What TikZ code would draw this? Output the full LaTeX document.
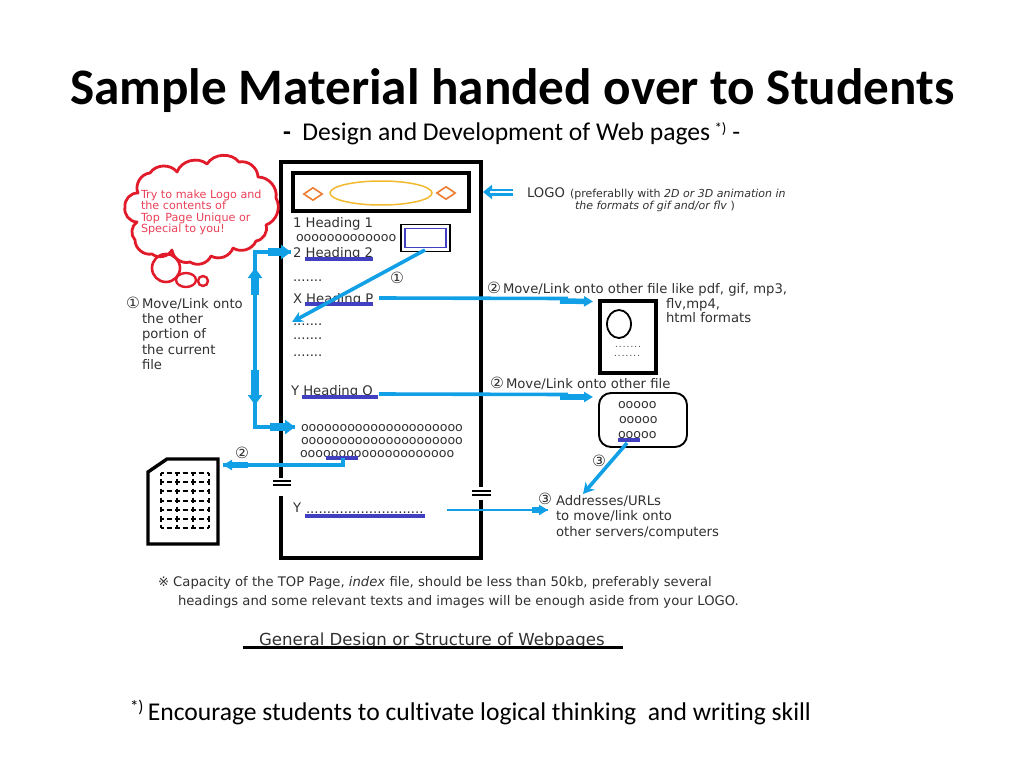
\documentclass[tikz,border=0pt]{standalone}
\usepackage{fontspec}
\setmainfont[Ligatures={NoCommon}]{Carlito}
\newfontfamily\djv{DejaVu Sans}
\newfontfamily\djvsp[LetterSpace=14]{DejaVu Sans}
\usetikzlibrary{arrows.meta,calc,shapes.geometric}
\definecolor{linkblue}{HTML}{11A0E6}
\definecolor{ulblue}{HTML}{4040C0}
\definecolor{inktext}{HTML}{303030}
\definecolor{cloudred}{HTML}{E21B2B}
\definecolor{cloudtext}{HTML}{EA4058}
\definecolor{ovalc}{HTML}{F2B92E}
\definecolor{diac}{HTML}{ED7D31}
\newcommand{\fs}[1]{\fontsize{#1}{#1}\selectfont}
\newcommand{\cnum}[1]{\makebox[16pt][l]{\fs{15.5}#1}}
\tikzset{
 lab/.style={anchor=base west,inner sep=0pt,outer sep=0pt,text=inktext,font=\djv\fs{13.2}},
 olab/.style={lab,font=\djv\fs{12.6}},
 small/.style={lab,font=\djv\fs{11}},
 cloudlab/.style={lab,text=cloudtext,font=\djv\fs{11.2}},
 numlab/.style={lab,anchor=center,font=\djv\fs{15.5}},
 slide/.style={anchor=base west,inner sep=0pt,outer sep=0pt,text=black},
 ul/.style={draw=ulblue,line width=3.2pt},
 link/.style={draw=linkblue,line width=3.6pt},
 thinlink/.style={draw=linkblue,line width=2.8pt},
 stub/.style={draw=linkblue,line width=8pt,-{Triangle[length=10pt,width=14pt,fill=linkblue]}},
 ministub/.style={draw=linkblue,line width=5.5pt,-{Triangle[length=9pt,width=10pt,fill=linkblue]}},
 box/.style={draw=black,inner sep=0pt,outer sep=0pt},
 brk/.style={draw=black,line width=1.3pt},
}
\begin{document}
\begin{tikzpicture}[x=1pt,y=-1pt]
\useasboundingbox (0,0) rectangle (1024,768);
% slide texts
\node[slide,font=\bfseries\fs{51.2}] (title) at (70,104) {Sample Material handed over to Students};
\node[slide,font=\fs{25.6}] (subtitle) at (283,140) {\textbf{-}\ \ Design and Development of Web pages\,\raisebox{7pt}{\fs{15}*)}\ -};
\node[slide,font=\fs{25.6}] (footer) at (130,720) {\raisebox{8pt}{\fs{17}*)}\,Encourage students to cultivate logical thinking\ \ and writing skill};
% page outline
\coordinate (ptl) at (281,162); \coordinate (ptr) at (481,162);
\coordinate (pbl) at (281,558); \coordinate (pbr) at (481,558);
\coordinate (pl1) at (281,478); \coordinate (pl2) at (281,496);
\coordinate (pr1) at (481,487); \coordinate (pr2) at (481,500);
\draw[line width=3.6pt,line join=miter] (pl1) -- (ptl) -- (ptr) -- (pr1);
\draw[line width=3.6pt,line join=miter] (pl2) -- (pbl) -- (pbr) -- (pr2);
\draw[brk] ($(pl1)+(-8,3)$) -- ($(pl1)+(10,3)$);
\draw[brk] ($(pl1)+(-8,7)$) -- ($(pl1)+(10,7)$);
\draw[brk] ($(pr1)+(-9,4)$) -- ($(pr1)+(10,4)$);
\draw[brk] ($(pr1)+(-9,8)$) -- ($(pr1)+(10,8)$);
% logo
\node[box,line width=3.4pt,minimum width=176pt,minimum height=38pt] (logo) at (381,192) {};
\node[draw=ovalc,ellipse,line width=1.5pt,minimum width=102pt,minimum height=24pt,inner sep=0pt] (oval) at (381,193) {};
\node[draw=diac,diamond,line width=1.6pt,minimum width=19pt,minimum height=13pt,inner sep=0pt] (dl) at (313,194) {};
\node[draw=diac,diamond,line width=1.6pt,minimum width=19pt,minimum height=13pt,inner sep=0pt] (dr) at (446,193) {};
% small picture
\node[box,line width=1.8pt,minimum width=49pt,minimum height=27pt] (pic) at (425.5,238) {};
\node[draw=ulblue,line width=1.4pt,inner sep=0pt,minimum width=41pt,minimum height=19pt] (picin) at (425.5,238) {};
% page text
\node[lab] (h1) at (293,227) {1 Heading 1};
\node[olab] (o0) at (296,241) {ooooooooooooo};
\node[lab] (h2) at (293,257) {2 Heading 2};
\node[lab] (d1) at (293,281) {.......};
\node[lab] (hp) at (293,303) {X Heading P};
\node[lab] (d2) at (293,325) {.......};
\node[lab] (d3) at (293,339) {.......};
\node[lab] (d4) at (293,356) {.......};
\node[lab] (hq) at (291,395) {Y Heading Q};
\node[olab] (o1) at (301,431) {ooooooooooooooooooooo};
\node[olab] (o2) at (301,444) {ooooooooooooooooooooo};
\node[olab] (o3) at (300,457) {oooooooooooooooooooo};
\node[lab] (yy) at (293,512) {Y};
\node[lab] (yd) at (306,513) {............................};
% underlines
\draw[ul] (305,259) -- (373,259);
\draw[ul] (305,304) -- (373,304);
\draw[ul] (302,397) -- (378,397);
\draw[ul] (326,458) -- (358,458);
\draw[ul] (305,516) -- (425,516);
\draw[ul] (618,440) -- (640,440);
% cloud
\draw[cloudred,line width=2.8pt,line join=round]
 (138,193) to[bend left=55] (150,173) to[bend left=55] (177,172) to[bend left=55] (207,164)
 to[bend left=55] (239,162) to[bend left=50] (258,177) to[bend left=50] (276,198)
 to[bend left=50] (266,225) to[bend left=50] (256,241) to[bend left=50] (233,248)
 to[bend left=50] (211,256) to[bend left=50] (190,262) to[bend left=50] (172,250)
 to[bend left=50] (152,254) to[bend left=50] (135,240) to[bend left=50] (137,222)
 to[bend left=50] (125,207) to[bend left=50] cycle;
\node[draw=cloudred,line width=2.6pt,ellipse,minimum width=28pt,minimum height=28pt,inner sep=0pt] (b1) at (166,268) {};
\node[draw=cloudred,line width=2.4pt,ellipse,minimum width=20pt,minimum height=14pt,inner sep=0pt] (b2) at (186,280) {};
\node[draw=cloudred,line width=2.4pt,ellipse,minimum width=10pt,minimum height=10pt,inner sep=0pt] (b3) at (203,281) {};
\node[cloudlab] (c1) at (141,198) {Try to make Logo and};
\node[cloudlab] (c2) at (141,209) {the contents of};
\node[cloudlab] (c3) at (141,221) {Top\, Page Unique or};
\node[cloudlab] (c4) at (141,232) {Special to you!};
% left labels
\node[lab] (l1) at (126,308) {\cnum{①}Move/Link onto};
\node[lab] (l2) at (142,323) {the other};
\node[lab] (l3) at (142,338) {portion of};
\node[lab] (l4) at (142,354) {the current};
\node[lab] (l5) at (142,369) {file};
% paper document
\draw[line width=3.4pt,line join=miter] (148,472) -- (167,459) -- (218,459) -- (218,544) -- (148,544) -- cycle;
\foreach \yy in {473,482.2,491.3,500.5,509.7,518.8,528}
  \draw[line width=2pt,dash pattern=on 5pt off 3pt,dash phase=2.5pt] (161,\yy) -- (209,\yy);
\foreach \xx in {161,177,193,209}
  \draw[line width=2pt,dash pattern=on 5.5pt off 3.67pt,dash phase=2.75pt] (\xx,473) -- (\xx,528);
% document 2
\node[box,line width=3.4pt,minimum width=56pt,minimum height=72pt] (doc) at (628,337) {};
\node[draw=black,ellipse,line width=1.8pt,minimum width=24pt,minimum height=28pt,inner sep=0pt] (docc) at (619,324) {};
\node[lab,font=\djvsp\fs{8.5}] (dd1) at (615,347) {.......};
\node[lab,font=\djvsp\fs{8.5}] (dd2) at (614,356) {.......};
% rounded file
\node[box,line width=1.9pt,rounded corners=12pt,minimum width=88pt,minimum height=54pt] (file) at (643,420) {};
\node[olab] (f1) at (618,408) {ooooo};
\node[olab] (f2) at (619,423) {ooooo};
\node[olab] (f3) at (618,438) {ooooo};
% right labels
\node[lab] (logot) at (527,197) {LOGO};
\node[small] (logot1) at (570,197) {(preferablly with \textit{2D or 3D animation in}};
\node[small] (logot2) at (575,209) {\textit{the formats of gif and/or flv} )};
\node[lab] (m1) at (487,293) {\cnum{②}Move/Link onto other file like pdf, gif, mp3,};
\node[lab] (m2) at (666,308) {flv,mp4,};
\node[lab] (m3) at (666,322) {html formats};
\node[lab] (m4) at (490,388) {\cnum{②}Move/Link onto other file};
\node[numlab] (a0) at (545,499) {③};
\node[lab] (a1) at (556,505) {Addresses/URLs};
\node[lab] (a2) at (556,520) {to move/link onto};
\node[lab] (a3) at (556,536) {other servers/computers};
\node[numlab] (n1) at (397,278) {①};
\node[numlab] (n2) at (242,453) {②};
\node[numlab] (n3) at (599,461) {③};
% notes
\node[lab] (note1) at (158,586) {※ Capacity of the TOP Page, \textit{index} file, should be less than 50kb, preferably several};
\node[lab] (note2) at (178,605) {headings and some relevant texts and images will be enough aside from your LOGO.};
\node[lab,font=\djv\fs{16.6}] (cap) at (259,645) {General Design or Structure of Webpages};
\coordinate (capl) at (243,647.5); \coordinate (capr) at (623,647.5);
\draw[line width=3pt] (capl) -- (capr);
% connectors
\coordinate (vt) at (255,252); \coordinate (vb) at (255,427);
\coordinate (vtip1) at (255,268); \coordinate (vtip2) at (255,405);
\coordinate (h2tip) at (291,252); \coordinate (odtip) at (295,427);
\draw[link,line width=4.4pt,line join=miter] (h2tip) -- (vt) -- (vb) -- (odtip);
\draw[stub] ($(h2tip)+(-23,0)$) -- (h2tip);
\draw[stub] ($(odtip)+(-25,0)$) -- (odtip);
\draw[stub] ($(vtip1)+(0,27)$) -- (vtip1);
\draw[stub] ($(vtip2)+(0,-35)$) -- (vtip2);
\coordinate (slantS) at (425,250); \coordinate (slantE) at (292,322);
\draw[link,-{Stealth[length=11pt,width=11pt]}] (slantS) -- (slantE);
\coordinate (lgE) at (483,192); \coordinate (lgS) at (513,192);
\draw[draw=linkblue,line width=7pt,-{Triangle[length=9pt,width=14pt,fill=linkblue]}] (lgS) -- (lgE);
\draw[white,line width=1.8pt] (lgS) -- ($(lgE)+(7,0)$);
\coordinate (pS) at (379,298); \coordinate (pM) at (568,298.5); \coordinate (pT) at (560,301); \coordinate (pE) at (593,301.5);
\draw[link] (pS) -- (pM);
\draw[ministub] (pT) -- (pE);
\coordinate (qS) at (379,394); \coordinate (qM) at (568,394.5); \coordinate (qT) at (560,397); \coordinate (qE) at (593,397);
\draw[link] (qS) -- (qM);
\draw[ministub] (qT) -- (qE);
\coordinate (yS) at (447,510); \coordinate (yE) at (548,510);
\draw[thinlink] (yS) -- (yE);
\draw[ministub] ($(yE)+(-16,0)$) -- (yE);
\coordinate (fS) at (627,443); \coordinate (fE) at (583,494);
\draw[link,-{Stealth[length=11pt,width=12pt]}] (fS) -- (fE);
\coordinate (oS) at (343,458); \coordinate (oM) at (343,465); \coordinate (oE) at (223,465);
\draw[link,line join=miter] (oS) -- (oM) -- (oE);
\draw[ministub] ($(oE)+(25,0)$) -- (oE);
\end{tikzpicture}
\end{document}
